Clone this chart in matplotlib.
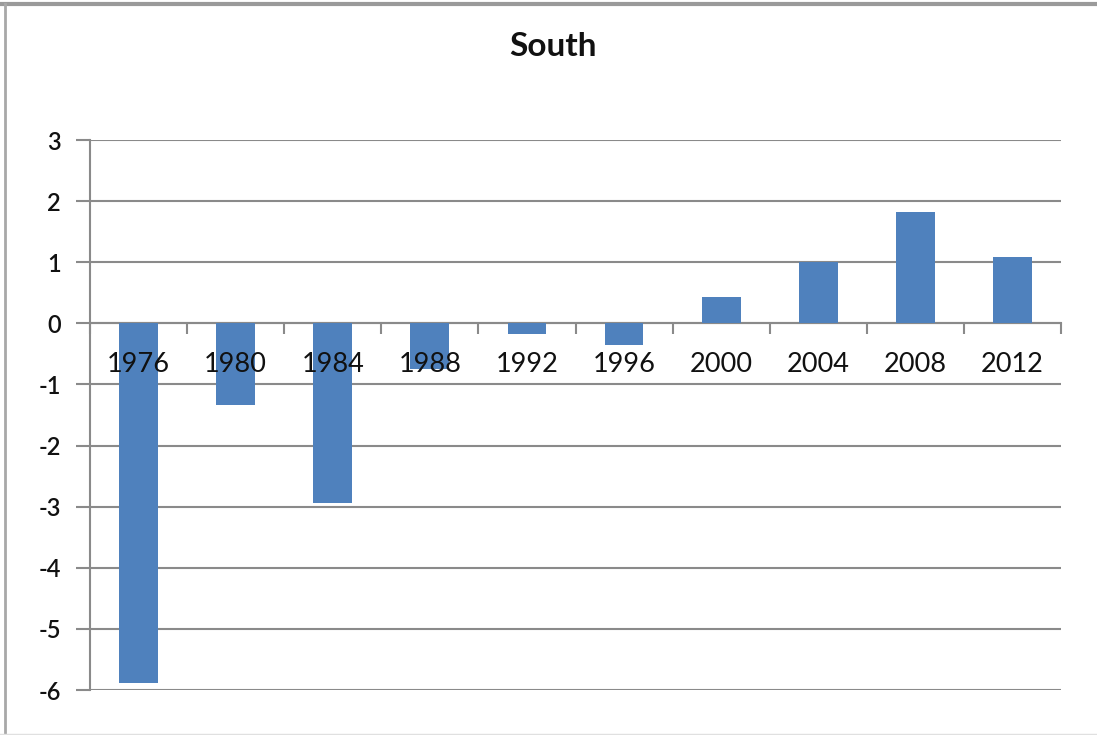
import matplotlib
matplotlib.use("Agg")
import matplotlib.pyplot as plt
from matplotlib.lines import Line2D
from matplotlib.transforms import offset_copy
import numpy as np

years = ["1976", "1980", "1984", "1988", "1992", "1996", "2000", "2004", "2008", "2012"]
values = [-5.88, -1.34, -2.94, -0.75, -0.17, -0.36, 0.43, 1.00, 1.82, 1.08]
y_ticks = [3, 2, 1, 0, -1, -2, -3, -4, -5, -6]

bar_color = "#4F81BD"
grid_color = "#8A8A8A"
text_color = "#111111"

plt.rcParams["font.family"] = ["Lato", "DejaVu Sans"]

fig = plt.figure(figsize=(10.97, 7.35), dpi=100)
ax = fig.add_axes([90 / 1097, 45 / 735, (1061 - 90) / 1097, (690 - 140) / 735])

x = np.arange(len(years))
ax.bar(x, values, width=0.4, color=bar_color, zorder=3)

ax.set_xlim(-0.5, len(years) - 0.5)
ax.set_ylim(min(y_ticks), max(y_ticks))
ax.set_yticks(y_ticks)
ax.set_yticklabels([str(v) for v in y_ticks], fontsize=17, fontweight="semibold")
ax.yaxis.grid(True, color=grid_color, linewidth=1.5, zorder=0)
ax.tick_params(axis="y", length=10, width=1.5, color=grid_color, pad=11, labelcolor=text_color)

# Category axis crosses at zero, tick marks between categories
for side in ("top", "right"):
    ax.spines[side].set_visible(False)
ax.spines["bottom"].set_position(("data", 0))
for side in ("bottom", "left"):
    ax.spines[side].set_color(grid_color)
    ax.spines[side].set_linewidth(1.5)

ax.set_xticks(np.arange(len(years) + 1) - 0.5)
ax.set_xticklabels([])
ax.tick_params(axis="x", which="major", length=8, width=1.5, color=grid_color, direction="out")

# Category labels sit just under the zero line, drawn over the bars
label_trans = offset_copy(ax.transData, fig=fig, x=0, y=-41, units="dots")
for xi, year in zip(x, years):
    ax.text(xi, 0, year, transform=label_trans, ha="center", va="center",
            fontsize=19.5, color=text_color, zorder=5, clip_on=False)

fig.text(553 / 1097, 1 - 47 / 735, "South", ha="center", va="center",
         fontsize=24, fontweight="bold", color=text_color)

# Chart frame
fig.add_artist(Line2D([0, 1], [1 - 4 / 735, 1 - 4 / 735], transform=fig.transFigure,
                      color="#9A9A9A", linewidth=3))
fig.add_artist(Line2D([5 / 1097, 5 / 1097], [0, 1 - 4 / 735], transform=fig.transFigure,
                      color="#A8A8A8", linewidth=2))
fig.add_artist(Line2D([0, 1], [1 / 735, 1 / 735], transform=fig.transFigure,
                      color="#E0E0E0", linewidth=1))

fig.savefig("out.png", dpi=100)
